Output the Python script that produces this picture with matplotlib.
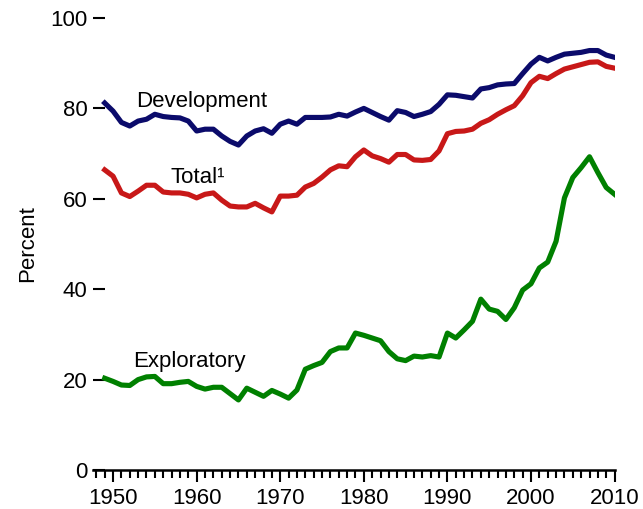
import matplotlib
matplotlib.use("Agg")
import matplotlib.pyplot as plt
from matplotlib.ticker import MultipleLocator

plt.rcParams['font.family'] = ['Liberation Sans', 'DejaVu Sans']

years = list(range(1949, 2011))

development = [81.2, 79.4, 76.9, 76.1, 77.2, 77.6, 78.7, 78.2, 78.0, 77.9,
               77.2, 75.0, 75.4, 75.4, 73.9, 72.7, 71.9, 73.9, 75.0, 75.5,
               74.5, 76.5, 77.2, 76.5, 78.0, 78.0, 78.0, 78.1, 78.7, 78.3,
               79.2, 80.0, 79.1, 78.2, 77.4, 79.5, 79.1, 78.2, 78.7, 79.3,
               80.9, 83.0, 82.9, 82.6, 82.3, 84.3, 84.6, 85.2, 85.4, 85.5,
               87.7, 89.8, 91.3, 90.5, 91.3, 92.0, 92.2, 92.4, 92.8, 92.8,
               91.8, 91.3]

total = [66.4, 65.0, 61.3, 60.5, 61.7, 63.0, 63.0, 61.5, 61.3, 61.3,
         61.0, 60.2, 61.0, 61.3, 59.7, 58.4, 58.2, 58.2, 59.0, 58.0,
         57.1, 60.6, 60.6, 60.8, 62.6, 63.4, 64.8, 66.4, 67.3, 67.1,
         69.3, 70.8, 69.5, 68.9, 68.1, 69.8, 69.8, 68.6, 68.5, 68.7,
         70.6, 74.4, 74.9, 75.0, 75.4, 76.7, 77.5, 78.7, 79.7, 80.6,
         82.8, 85.7, 87.1, 86.6, 87.7, 88.7, 89.2, 89.7, 90.2, 90.3,
         89.3, 88.9]

exploratory = [20.3, 19.6, 18.8, 18.7, 20.0, 20.6, 20.7, 19.1, 19.1, 19.4,
               19.6, 18.5, 17.9, 18.3, 18.3, 16.9, 15.5, 18.1, 17.2, 16.3,
               17.6, 16.8, 15.9, 17.7, 22.3, 23.1, 23.8, 26.2, 27.0, 27.0,
               30.3, 29.8, 29.2, 28.6, 26.2, 24.6, 24.2, 25.2, 25.0, 25.3,
               25.0, 30.3, 29.2, 31.0, 32.9, 37.8, 35.6, 35.1, 33.3, 35.9,
               39.8, 41.2, 44.7, 46.0, 50.6, 60.2, 64.7, 66.9, 69.3, 65.8,
               62.5, 61.0]

year_ticks = [1950, 1960, 1970, 1980, 1990, 2000, 2010]
pct_ticks = [0, 20, 40, 60, 80, 100]

fig = plt.figure(figsize=(6.43, 5.09), dpi=100)
ax = fig.add_axes([93 / 643, 1 - 470 / 509, 522 / 643, 452 / 509])

lw = 3.7
ax.plot(years, development, color='#0b0b6b', lw=lw, solid_joinstyle='round')
ax.plot(years, total, color='#c81818', lw=lw, solid_joinstyle='round')
ax.plot(years, exploratory, color='#008000', lw=lw, solid_joinstyle='round')

# series labels
ax.text(1952.8, 80.2, 'Development', fontsize=16, va='baseline')
ax.text(1956.9, 63.6, 'Total\u00b9', fontsize=16, va='baseline')
ax.text(1952.4, 22.8, 'Exploratory', fontsize=16, va='baseline')

ax.set_xlim(1947.6, 2010.05)
ax.set_ylim(0, 100)

for s in ['top', 'right', 'left']:
    ax.spines[s].set_visible(False)
ax.spines['bottom'].set_linewidth(1.8)

ax.set_xticks(year_ticks)
ax.xaxis.set_minor_locator(MultipleLocator(1))
ax.tick_params(axis='x', which='major', direction='out', length=8.6, width=1.5,
               labelsize=16, pad=4)
ax.tick_params(axis='x', which='minor', direction='out', length=5.8, width=1.5)

ax.set_yticks(pct_ticks)
ax.tick_params(axis='y', which='major', direction='in', length=8.6, width=1.5,
               labelsize=16, pad=4)

ax.set_ylabel('Percent', fontsize=16)
ax.yaxis.set_label_coords(-0.105, 0.5)

fig.savefig('out.png', dpi=100)
